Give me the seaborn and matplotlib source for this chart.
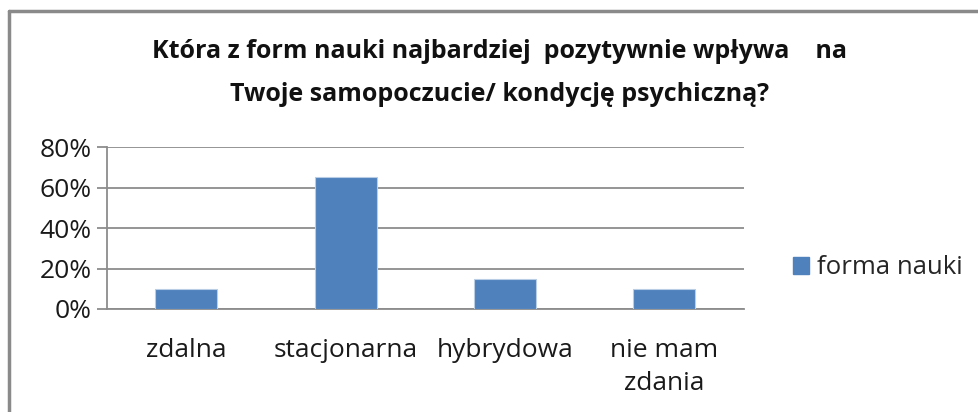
#!/usr/bin/env python3

import pandas as pd
import matplotlib.pyplot as plt
import matplotlib.ticker as mticker
from matplotlib.lines import Line2D
from matplotlib.patches import Patch
import seaborn as sns

categories = ["zdalna", "stacjonarna", "hybrydowa", "nie mam\nzdania"]
values = [0.10, 0.65, 0.15, 0.10]
series_name = "forma nauki"
title = "Która z form nauki najbardziej  pozytywnie wpływa    na\nTwoje samopoczucie/ kondycję psychiczną?"


def plot_chart():
    sns.set_style("white")
    plt.rcParams['font.family'] = ['Open Sans', 'DejaVu Sans']

    df = pd.DataFrame({"kategoria": categories, "wartosc": values})
    fig = plt.figure(figsize=(9.79, 4.12), dpi=100)
    ax = fig.add_axes([0.109, 0.25, 0.651, 0.393])

    bar_color = "#4f81bd"
    grid_color = "#8c8c8c"
    sns.barplot(data=df, x="kategoria", y="wartosc", color=bar_color,
                saturation=1, width=0.39, edgecolor="#b9cde5",
                linewidth=0.8, ax=ax, zorder=3)

    ax.set_ylim(0, 0.8)
    ax.set_xlim(-0.5, 3.5)
    ax.yaxis.set_major_locator(mticker.MultipleLocator(0.2))
    ax.yaxis.set_major_formatter(mticker.PercentFormatter(1.0, decimals=0))
    ax.grid(axis="y", color=grid_color, linewidth=1.3, zorder=0)
    ax.set(xlabel="", ylabel="")

    for side in ["top", "right"]:
        ax.spines[side].set_visible(False)
    for side in ["left", "bottom"]:
        ax.spines[side].set_color(grid_color)
        ax.spines[side].set_linewidth(1.3)

    ax.xaxis.set_minor_locator(mticker.FixedLocator([-0.5, 0.5, 1.5, 2.5, 3.5]))
    ax.tick_params(axis="x", which="major", length=0, pad=21,
                   labelsize=19, labelcolor="#1a1a1a")
    ax.tick_params(axis="x", which="minor", length=7, width=1.3,
                   color=grid_color, direction="out")
    ax.tick_params(axis="y", length=7, width=1.3, color=grid_color,
                   labelsize=19, labelcolor="#1a1a1a", pad=4, left=True)
    for lbl in ax.get_xticklabels():
        lbl.set_linespacing(1.4)

    fig.text(0.51, 0.822, title, ha="center", va="center",
             fontsize=18, fontweight="bold", linespacing=1.95,
             color="#111111")

    handle = Patch(facecolor=bar_color, edgecolor=bar_color)
    fig.legend([handle], [series_name], loc="center left",
               bbox_to_anchor=(0.786, 0.35), frameon=False, fontsize=18.5,
               handlelength=0.65, handleheight=0.65, handletextpad=0.3)

    # chart frame (top and left edges visible in the crop)
    frame = "#8a8a8a"
    fig.add_artist(Line2D([0.009, 1.0], [0.973, 0.973], color=frame, lw=2.5,
                          transform=fig.transFigure))
    fig.add_artist(Line2D([0.009, 0.009], [0.0, 0.973], color=frame, lw=2.5,
                          transform=fig.transFigure))

    fig.savefig("out.png", dpi=100, facecolor="white")


if __name__ == "__main__":
    plot_chart()
